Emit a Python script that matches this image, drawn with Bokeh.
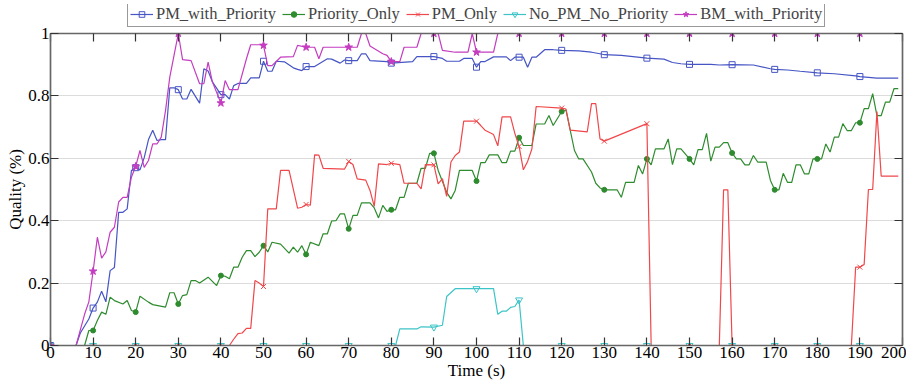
import numpy as np
from bokeh.plotting import figure
from bokeh.layouts import column
from bokeh.models import (LinearAxis, FixedTicker, Legend, LegendItem, Range1d,
                          ColumnDataSource)
from bokeh.embed import file_html
from bokeh.resources import INLINE

FONT = "Liberation Serif"

# ---------------- data (breakpoints) ----------------
PMP_T = [0, 6, 7, 9, 10, 11, 12, 13, 14, 15, 16, 17, 18, 19, 20, 21, 22, 23, 24, 25, 26, 27, 28, 29,
         30, 31, 32, 33, 35, 36, 37, 38, 40, 41, 42, 43, 44, 46, 47, 49, 50, 51, 52, 53, 55, 57, 58,
         59, 60, 62, 65, 66, 68, 69, 70, 72, 73, 74, 75, 79, 80, 85, 86, 88, 90, 92, 93, 96, 97, 99,
         100, 101, 102, 104, 107, 108, 109, 110, 111, 112, 113, 114, 116, 118, 120, 124, 127, 129,
         130, 134, 140, 144, 146, 148, 150, 155, 157, 160, 165, 169, 170, 173, 176, 180, 184, 189,
         190, 194, 199]
PMP_V = [0, 0, 0.04, 0.085, 0.12, 0.139, 0.174, 0.14, 0.24, 0.25, 0.427, 0.427, 0.438, 0.561, 0.57,
         0.563, 0.602, 0.66, 0.69, 0.657, 0.66, 0.66, 0.826, 0.826,
         0.82, 0.79, 0.79, 0.821, 0.777, 0.887, 0.88, 0.845, 0.804, 0.804, 0.79, 0.833, 0.84, 0.84,
         0.858, 0.858, 0.911, 0.879, 0.879, 0.911, 0.909, 0.89, 0.885,
         0.881, 0.894, 0.894, 0.919, 0.918, 0.905, 0.915, 0.913, 0.913, 0.935, 0.935, 0.913, 0.91,
         0.905, 0.91, 0.926, 0.926, 0.926, 0.92, 0.911, 0.911, 0.92, 0.92,
         0.892, 0.91, 0.91, 0.925, 0.925, 0.913, 0.924, 0.924, 0.924, 0.892, 0.924, 0.924, 0.948,
         0.948, 0.946, 0.944, 0.94, 0.935,
         0.932, 0.93, 0.921, 0.918, 0.907, 0.903, 0.901, 0.901, 0.899, 0.90, 0.899, 0.887, 0.885,
         0.883, 0.879, 0.874, 0.871, 0.864,
         0.862, 0.857, 0.857]

PO_T = [0, 8, 9, 10, 11, 12, 13, 14, 15, 17, 18, 19, 20, 21, 23, 24, 27, 28, 29, 30, 31, 32, 33, 34,
        35, 37, 39, 40, 41, 42, 43, 44, 45, 46, 47, 48, 49, 50, 51, 52, 54, 56, 57, 58, 59, 60, 61,
        63, 64, 65, 66, 67, 68, 69, 70, 71, 72, 73, 75, 76, 77, 78, 79, 80, 81, 82, 83, 84, 86, 87,
        88, 89, 90, 91, 93, 94, 95, 96, 99, 100, 101, 102, 103, 105, 106, 107, 108, 109, 110, 111,
        113, 114, 116, 117, 118, 120, 121, 123, 124, 125, 127, 128, 129, 130, 133, 134, 135, 137,
        138, 139, 140, 141, 142, 144, 145, 146, 147, 148, 150, 151, 152, 153, 154, 155, 156, 157,
        158, 159, 160, 161, 162, 163, 164, 165, 166, 168, 169, 170, 171, 172, 173, 174, 175, 176,
        177, 178, 179, 180, 181, 182, 183, 184, 185, 186, 187, 188, 189, 190, 191, 192, 193, 194,
        195, 196, 197, 198, 199]
PO_V = [0, 0, 0.048, 0.048, 0.08, 0.107, 0.10, 0.155, 0.144, 0.133, 0.144, 0.112, 0.107, 0.158,
        0.139, 0.131, 0.123, 0.169, 0.169, 0.133, 0.16, 0.163, 0.208, 0.208,
        0.2, 0.219, 0.192, 0.224, 0.222, 0.214, 0.251, 0.251, 0.283, 0.304, 0.304, 0.285, 0.299,
        0.32, 0.30, 0.331, 0.325, 0.296, 0.315, 0.299, 0.32, 0.292, 0.331,
        0.32, 0.358, 0.358, 0.399, 0.4, 0.422, 0.422, 0.374, 0.417, 0.417, 0.457, 0.457, 0.441,
        0.409, 0.449, 0.43, 0.435, 0.435, 0.475, 0.475, 0.52, 0.52, 0.568,
        0.568, 0.616, 0.616, 0.561, 0.491, 0.47, 0.497, 0.561, 0.561, 0.527, 0.586, 0.586, 0.611,
        0.611, 0.586, 0.586, 0.623, 0.623, 0.666, 0.641,
        0.641, 0.71, 0.71, 0.737, 0.705, 0.75, 0.755, 0.625, 0.598, 0.598, 0.556, 0.52, 0.505,
        0.499, 0.499, 0.475, 0.523, 0.523,
        0.577, 0.55, 0.598, 0.579, 0.63, 0.63, 0.662, 0.58, 0.63, 0.63, 0.598, 0.579, 0.628, 0.628,
        0.68, 0.591, 0.636, 0.636,
        0.65, 0.65, 0.617, 0.598, 0.598, 0.579, 0.579, 0.609, 0.588, 0.588, 0.529, 0.499, 0.499,
        0.552, 0.523, 0.523, 0.579, 0.579,
        0.55, 0.55, 0.598, 0.598, 0.598, 0.646, 0.62, 0.668, 0.668, 0.711, 0.689, 0.689, 0.714,
        0.714, 0.759, 0.759, 0.807, 0.737,
        0.737, 0.78, 0.78, 0.823, 0.823]

PM_T = [0, 42, 43, 44, 45, 46, 47, 48, 49, 50, 51, 53, 54, 56, 58, 59, 60, 61, 62, 63, 64, 69, 70,
        71, 72, 74, 75, 76, 77, 79, 80, 82, 83, 86, 87, 88, 90, 91, 92, 93, 94, 95, 96, 97, 100,
        101, 102, 104, 105, 106, 108, 109, 110, 111, 112, 113, 114, 120, 121, 122, 126, 127, 128,
        129, 130, 140, 141, 157, 158, 159, 160, 188, 189, 190, 191, 192, 193, 194, 195, 199]
PM_V = [0, 0, 0.02, 0.038, 0.04, 0.055, 0.055, 0.208, 0.2, 0.189, 0.438, 0.438, 0.561, 0.561, 0.44,
        0.443, 0.452, 0.45, 0.611, 0.61, 0.568, 0.565, 0.59,
        0.58, 0.534, 0.53, 0.497, 0.446, 0.582, 0.58, 0.584, 0.58, 0.52, 0.52, 0.502, 0.58, 0.579,
        0.518, 0.535, 0.478, 0.588, 0.609, 0.62, 0.719, 0.719,
        0.705, 0.69, 0.676, 0.64, 0.733, 0.733, 0.68, 0.638, 0.563, 0.59, 0.63, 0.766, 0.761,
        0.758, 0.69, 0.685, 0.775, 0.775,
        0.662, 0.655, 0.711, 0, 0, 0.499, 0.499, 0, 0, 0.251, 0.251, 0.26, 0.5, 0.5, 0.75, 0.543,
        0.543]

NO_T = [0, 81, 82, 86, 87, 90, 92, 93, 95, 100, 104, 105, 106, 107, 108, 109, 110, 111, 199]
NO_V = [0, 0, 0.053, 0.053, 0.06, 0.059, 0.065, 0.157, 0.182, 0.182, 0.182, 0.10, 0.11, 0.11,
        0.122, 0.125, 0.146, 0, 0]

BM_T = [0, 6, 7, 8, 9, 10, 11, 12, 13, 14, 15, 16, 17, 18, 19, 20, 21, 22, 23, 24, 25, 26, 27, 28,
        29, 30, 31, 33, 35, 36, 37, 38, 40, 41, 42, 44, 46, 47, 49, 50, 51, 52, 54, 57, 58, 60, 62,
        63, 64, 70, 72, 73, 74, 75, 78, 79, 80, 82, 83, 86, 87, 91, 92, 95, 98, 99, 100, 104, 105,
        199]
BM_V = [0, 0, 0.05, 0.10, 0.14, 0.238, 0.347, 0.28, 0.30, 0.363, 0.379, 0.46, 0.475, 0.475, 0.54,
        0.574, 0.625, 0.571, 0.593, 0.646, 0.646, 0.668, 0.753, 0.86,
        0.93, 1.0, 0.916, 0.913, 0.839, 0.839, 0.908, 0.845, 0.777, 0.849, 0.82, 0.82, 0.919, 0.964,
        0.964, 0.962, 0.897, 0.897, 0.924, 0.926, 0.962, 0.956, 0.956,
        0.919, 0.956, 0.956, 0.956, 1.0, 1.0, 0.96, 0.935, 0.93, 0.91, 0.91, 0.956, 0.956, 1.0, 1.0,
        0.946, 0.94, 0.94, 1.0, 0.94, 0.94, 1.0,
        1.0]

MARK_T = list(range(0, 200, 10))
X_TICKS = list(range(0, 201, 10))
Y_TICKS = [0, 0.2, 0.4, 0.6, 0.8, 1]
Y_LABELS = ["0", "0.2", "0.4", "0.6", "0.8", "1"]

SERIES = [
    ("PM_with_Priority", PMP_T, PMP_V, "#4655c4", "square", 6, False),
    ("Priority_Only", PO_T, PO_V, "#2e8b2e", "circle", 5, True),
    ("PM_Only", PM_T, PM_V, "#f0474a", "x", 7, False),
    ("No_PM_No_Priority", NO_T, NO_V, "#3cc4c8", "inverted_triangle", 7, False),
    ("BM_with_Priority", BM_T, BM_V, "#c43cc0", "star", 8, True),
]

# ---------------- main figure ----------------
p = figure(frame_width=852, frame_height=312, x_range=Range1d(0, 200), y_range=Range1d(0, 1),
           output_backend="svg", toolbar_location=None,
           min_border_left=50, min_border_top=6, min_border_right=4, min_border_bottom=0,
           background_fill_color="white", border_fill_color="white")
p.outline_line_color = "#555555"
p.outline_line_width = 1.2

bottom = p.below[0]
left = p.left[0]

bottom.ticker = FixedTicker(ticks=X_TICKS)
left.ticker = FixedTicker(ticks=Y_TICKS)
left.major_label_overrides = {t: l for t, l in zip(Y_TICKS, Y_LABELS)}
p.xgrid.grid_line_color = None
p.ygrid.ticker = FixedTicker(ticks=Y_TICKS)
p.ygrid.grid_line_color = "#dcdcdc"
p.ygrid.grid_line_width = 1

bottom.axis_label = "Time (s)"
left.axis_label = "Quality (%)"

top_axis = LinearAxis(ticker=FixedTicker(ticks=X_TICKS))
right_axis = LinearAxis(ticker=FixedTicker(ticks=Y_TICKS))
for ax in (top_axis, right_axis):
    ax.major_label_text_font_size = "1px"
    ax.major_label_text_color = None
    ax.major_label_standoff = 0
p.add_layout(top_axis, "above")
p.add_layout(right_axis, "right")

for ax in [bottom, left, top_axis, right_axis]:
    ax.major_tick_in = 8
    ax.major_tick_out = 0
    ax.minor_tick_line_color = None
    ax.axis_line_color = "#666666"
    ax.axis_line_width = 1.5
    ax.major_tick_line_color = "#333333"
    ax.major_tick_line_width = 1.2
for ax in [bottom, left]:
    ax.major_label_text_font = FONT
    ax.major_label_text_font_size = "17px"
    ax.major_label_text_color = "black"
    ax.axis_label_text_font = FONT
    ax.axis_label_text_font_size = "17px"
    ax.axis_label_text_font_style = "normal"
    ax.axis_label_text_color = "black"
    ax.major_label_standoff = 1
    ax.axis_label_standoff = 0

# ---------------- legend strip (sits just above the main figure) ----------------
# same data, drawn outside this strip's visible range: only the legend shows
lf = figure(frame_width=852, frame_height=23, output_backend="svg", toolbar_location=None,
            x_range=Range1d(0, 200), y_range=Range1d(-3, -2),
            x_axis_location=None, y_axis_location=None,
            min_border_left=50, min_border_right=4, min_border_top=4, min_border_bottom=0,
            background_fill_color="white", border_fill_color="white")
lf.outline_line_color = None
lf.grid.visible = False

items = []
for name, ts, vs, color, marker, size, filled in SERIES:
    fill = color if filled else None
    p.line(ts, vs, line_color=color, line_width=1.2)
    mv = np.interp(MARK_T, ts, vs)
    src = ColumnDataSource(dict(x=MARK_T, y=list(mv)))
    p.scatter("x", "y", source=src, marker=marker, size=size, line_color=color,
              fill_color=fill, line_width=1)
    l_line = lf.line(ts, vs, line_color=color, line_width=1.2)
    l_mark = lf.scatter("x", "y", source=src, marker=marker, size=size, line_color=color,
                        fill_color=fill, line_width=1)
    items.append(LegendItem(label=name, renderers=[l_line, l_mark]))

legend = Legend(items=items, orientation="horizontal", location=(77, 0),
                label_text_font=FONT, label_text_font_size="16.5px", label_height=19,
                glyph_width=23, glyph_height=14, label_standoff=3, spacing=6, padding=2,
                margin=0, border_line_color="#333333", border_line_width=1,
                background_fill_color="white", background_fill_alpha=1)
lf.add_layout(legend)

layout = column(lf, p, spacing=0)
open("out.html", "w").write(file_html(layout, INLINE))
